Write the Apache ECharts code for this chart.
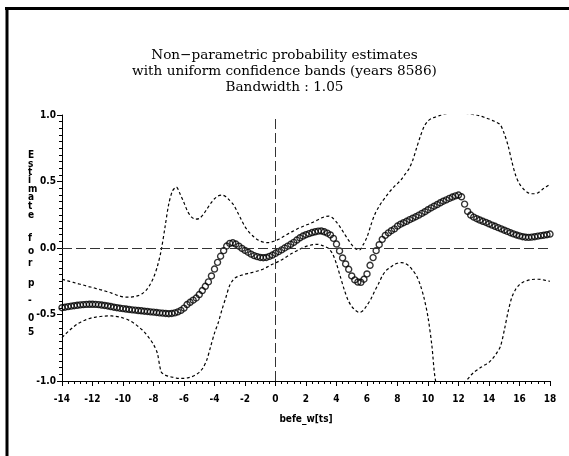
<!DOCTYPE html>
<html><head><meta charset="utf-8">
<script src="https://cdn.jsdelivr.net/npm/echarts@6/dist/echarts.min.js"></script>
<style>html,body{margin:0;padding:0;background:#fff}#c{width:569px;height:456px}</style>
</head><body><div id="c"></div>
<script>
const titleLines = ["Non\u2212parametric probability estimates", "with uniform confidence bands (years 8586)", "Bandwidth : 1.05"];
const xName = "befe_w[ts]";
const yNameChars = ["E","s","t","i","m","a","t","e","f","o","r","p","-","0","5"];
const yTickLabels = {"1":"1.0","0.5":"0.5","0":"0.0","-0.5":"-0.5","-1":"-1.0"};

// evaluation points of the estimate (circles)
const xsEst = [-14.0,-13.8,-13.6,-13.4,-13.2,-13.0,-12.8,-12.6,-12.4,-12.2,-12.0,-11.8,-11.6,-11.4,-11.2,-11.0,
-10.8,-10.6,-10.4,-10.2,-10.0,-9.8,-9.6,-9.4,-9.2,-9.0,-8.8,-8.6,-8.4,-8.2,-8.0,-7.8,-7.6,-7.4,-7.2,-7.0,
-6.8,-6.6,-6.4,-6.2,-6.0,-5.8,-5.6,-5.4,-5.2,-5.0,-4.8,-4.6,-4.4,-4.2,-4.0,-3.8,-3.6,-3.4,-3.2,-3.0,
-2.8,-2.6,-2.4,-2.2,-2.0,-1.8,-1.6,-1.4,-1.2,-1.0,-0.8,-0.6,-0.4,-0.2,0.0,0.2,0.4,0.6,0.8,1.0,
1.2,1.4,1.6,1.8,2.0,2.2,2.4,2.6,2.8,3.0,3.2,3.4,3.6,3.8,4.0,4.2,4.4,4.6,4.8,5.0,
5.2,5.4,5.6,5.8,6.0,6.2,6.4,6.6,6.8,7.0,7.2,7.4,7.6,7.8,8.0,8.2,8.4,8.6,8.8,9.0,
9.2,9.4,9.6,9.8,10.0,10.2,10.4,10.6,10.8,11.0,11.2,11.4,11.6,11.8,12.0,12.2,12.4,12.6,12.8,13.0,
13.2,13.4,13.6,13.8,14.0,14.2,14.4,14.6,14.8,15.0,15.2,15.4,15.6,15.8,16.0,16.2,16.4,16.6,16.8,17.0,
17.2,17.4,17.6,17.8,18.0];
const estimate = [-0.449,-0.445,-0.441,-0.437,-0.434,-0.431,-0.428,-0.426,-0.424,-0.423,-0.423,-0.424,-0.426,-0.429,-0.432,-0.436,
-0.440,-0.445,-0.449,-0.453,-0.456,-0.459,-0.462,-0.465,-0.467,-0.470,-0.472,-0.475,-0.477,-0.480,-0.482,-0.485,-0.488,-0.490,-0.492,-0.494,
-0.492,-0.488,-0.480,-0.469,-0.452,-0.425,-0.408,-0.392,-0.376,-0.350,-0.320,-0.288,-0.255,-0.210,-0.158,-0.108,-0.062,-0.020,0.015,0.035,
0.039,0.030,0.014,-0.003,-0.018,-0.032,-0.046,-0.057,-0.065,-0.071,-0.073,-0.071,-0.063,-0.053,-0.040,-0.027,-0.014,0.000,0.014,0.028,
0.042,0.060,0.077,0.090,0.100,0.108,0.116,0.122,0.127,0.128,0.122,0.112,0.098,0.072,0.030,-0.022,-0.075,-0.120,-0.160,-0.210,
-0.240,-0.256,-0.258,-0.235,-0.195,-0.130,-0.072,-0.020,0.025,0.065,0.095,0.114,0.130,0.144,0.165,0.179,0.190,0.201,0.213,0.224,
0.235,0.247,0.260,0.273,0.288,0.302,0.314,0.327,0.340,0.352,0.362,0.373,0.383,0.392,0.398,0.385,0.330,0.275,0.248,0.232,
0.220,0.210,0.201,0.192,0.182,0.172,0.163,0.153,0.144,0.134,0.125,0.115,0.106,0.098,0.091,0.085,0.081,0.080,0.082,0.085,
0.089,0.093,0.096,0.100,0.105];

// evaluation points of the confidence bands
const xsBand = [-14.00,-13.75,-13.50,-13.25,-13.00,-12.75,-12.50,-12.25,-12.00,-11.75,-11.50,-11.25,-11.00,-10.75,-10.50,-10.25,
-10.00,-9.75,-9.50,-9.25,-9.00,-8.75,-8.50,-8.25,-8.00,-7.75,-7.50,-7.25,-7.00,-6.75,-6.50,-6.25,
-6.00,-5.75,-5.50,-5.25,-5.00,-4.75,-4.50,-4.25,-4.00,-3.75,-3.50,-3.25,-3.00,-2.75,-2.50,-2.25,
-2.00,-1.75,-1.50,-1.25,-1.00,-0.75,-0.50,-0.25,0.00,0.25,0.50,0.75,1.00,1.25,1.50,1.75,
2.00,2.25,2.50,2.75,3.00,3.25,3.50,3.75,4.00,4.25,4.50,4.75,5.00,5.25,5.50,5.75,
6.00,6.25,6.50,6.75,7.00,7.25,7.50,7.75,8.00,8.25,8.50,8.75,9.00,9.25,9.50,9.75,
10.00,10.25,10.50,10.75,11.00,11.25,11.50,11.75,12.00,12.25,12.50,12.75,13.00,13.25,13.50,13.75,
14.00,14.25,14.50,14.75,15.00,15.25,15.50,15.75,16.00,16.25,16.50,16.75,17.00,17.25,17.50,17.75,18.00];

const upper = [-0.235,-0.243,-0.251,-0.259,-0.267,-0.274,-0.282,-0.290,-0.297,-0.305,-0.313,-0.321,-0.330,-0.339,-0.350,-0.360,
-0.367,-0.370,-0.369,-0.365,-0.358,-0.344,-0.320,-0.280,-0.223,-0.140,-0.020,0.153,0.330,0.430,0.458,0.405,
0.340,0.272,0.232,0.217,0.222,0.250,0.292,0.335,0.370,0.392,0.398,0.385,0.358,0.325,0.272,0.215,
0.160,0.122,0.092,0.068,0.052,0.043,0.040,0.046,0.055,0.068,0.085,0.102,0.118,0.132,0.148,0.160,
0.172,0.183,0.196,0.210,0.225,0.236,0.240,0.225,0.195,0.155,0.110,0.065,0.025,-0.005,-0.015,0.025,
0.082,0.170,0.250,0.305,0.350,0.388,0.425,0.458,0.485,0.515,0.555,0.595,0.660,0.752,0.840,0.915,
0.955,0.975,0.985,0.995,1.005,1.010,1.015,1.018,1.018,1.016,1.012,1.008,1.003,0.998,0.990,0.980,
0.970,0.958,0.945,0.925,0.860,0.770,0.650,0.545,0.482,0.445,0.420,0.408,0.408,0.418,0.440,0.460,0.480];

const lower = [-0.674,-0.645,-0.618,-0.594,-0.572,-0.556,-0.543,-0.532,-0.524,-0.519,-0.515,-0.512,-0.511,-0.511,-0.513,-0.518,
-0.526,-0.536,-0.550,-0.568,-0.590,-0.615,-0.645,-0.682,-0.725,-0.790,-0.930,-0.955,-0.965,-0.972,-0.978,-0.980,
-0.980,-0.976,-0.968,-0.955,-0.935,-0.900,-0.840,-0.740,-0.640,-0.560,-0.460,-0.370,-0.280,-0.235,-0.215,-0.205,
-0.197,-0.190,-0.183,-0.175,-0.167,-0.155,-0.140,-0.124,-0.112,-0.098,-0.082,-0.064,-0.045,-0.030,-0.015,0.000,
0.012,0.020,0.026,0.028,0.022,0.010,-0.006,-0.045,-0.120,-0.215,-0.310,-0.390,-0.440,-0.470,-0.485,-0.470,
-0.430,-0.385,-0.325,-0.270,-0.210,-0.170,-0.148,-0.127,-0.115,-0.110,-0.115,-0.135,-0.168,-0.210,-0.280,-0.380,
-0.520,-0.730,-1.000,-1.030,-1.040,-1.045,-1.045,-1.040,-1.030,-1.018,-1.000,-0.965,-0.935,-0.915,-0.895,-0.878,
-0.860,-0.830,-0.790,-0.740,-0.620,-0.480,-0.370,-0.310,-0.275,-0.255,-0.245,-0.238,-0.235,-0.235,-0.238,-0.245,-0.250];

const pairs = (xs, ys) => xs.map((x, i) => [x, ys[i]]);
const narrow = "'Liberation Sans Narrow','DejaVu Sans Condensed',sans-serif";
const tickFont = {fontFamily: narrow, fontWeight: 'bold', fontSize: 10, color: '#000'};
const yNameY = [155,164,172,180,189,197,206,215,238,251,263,283,300,318,332];

const chart = echarts.init(document.getElementById('c'), null, {renderer: 'canvas'});
chart.setOption({
  animation: false,
  backgroundColor: '#fff',
  grid: {left: 62, right: 19, top: 115, bottom: 75, containLabel: false},
  title: {
    text: titleLines.join('\n'), left: 'center', top: 42,
    textStyle: {fontFamily: "'DejaVu Serif','Liberation Serif',serif", fontWeight: 'normal', fontSize: 13.6, lineHeight: 16, color: '#000'}
  },
  xAxis: {
    type: 'value', min: -14, max: 18, interval: 2,
    name: xName, nameLocation: 'middle', nameGap: 33,
    nameTextStyle: tickFont,
    axisLine: {onZero: false, lineStyle: {color: '#000', width: 1}},
    axisTick: {show: true, length: 5, lineStyle: {color: '#000'}},
    minorTick: {show: true, splitNumber: 5, length: 3, lineStyle: {color: '#000'}},
    axisLabel: Object.assign({margin: 13}, tickFont),
    splitLine: {show: false}
  },
  yAxis: {
    type: 'value', min: -1, max: 1, interval: 0.5,
    axisLine: {onZero: false, lineStyle: {color: '#000', width: 1}},
    axisTick: {show: true, length: 5, lineStyle: {color: '#000'}},
    minorTick: {show: true, splitNumber: 10, length: 3, lineStyle: {color: '#000'}},
    axisLabel: Object.assign({margin: 6, formatter: v => yTickLabels[String(v)] || ''}, tickFont),
    splitLine: {show: false}
  },
  graphic: [
    {type: 'line', shape: {x1: 5, y1: 8.5, x2: 569, y2: 8.5}, style: {stroke: '#000', lineWidth: 3}},
    {type: 'line', shape: {x1: 7, y1: 7, x2: 7, y2: 456}, style: {stroke: '#000', lineWidth: 3}}
  ].concat(yNameChars.map((ch, i) => ({
    type: 'text', left: 28, top: yNameY[i] - 5,
    style: {text: ch, font: "bold 10px " + narrow, fill: '#000'}
  }))),
  series: [
    {
      type: 'line', data: pairs(xsBand, upper), showSymbol: false, smooth: 0.3,
      lineStyle: {color: '#000', width: 1.2, type: [3, 2.5]}, z: 3,
      markLine: {
        silent: true, symbol: 'none', label: {show: false},
        lineStyle: {color: '#333', width: 1, type: [10, 4]},
        data: [{yAxis: 0}, {xAxis: 0}]
      }
    },
    {
      type: 'line', data: pairs(xsBand, lower), showSymbol: false, smooth: 0.3,
      lineStyle: {color: '#000', width: 1.2, type: [3, 2.5]}, z: 3
    },
    {
      type: 'scatter', data: pairs(xsEst, estimate), symbol: 'circle', symbolSize: 6,
      itemStyle: {color: 'rgba(0,0,0,0)', borderColor: '#000', borderWidth: 1.4}, z: 4
    }
  ]
});
</script></body></html>
